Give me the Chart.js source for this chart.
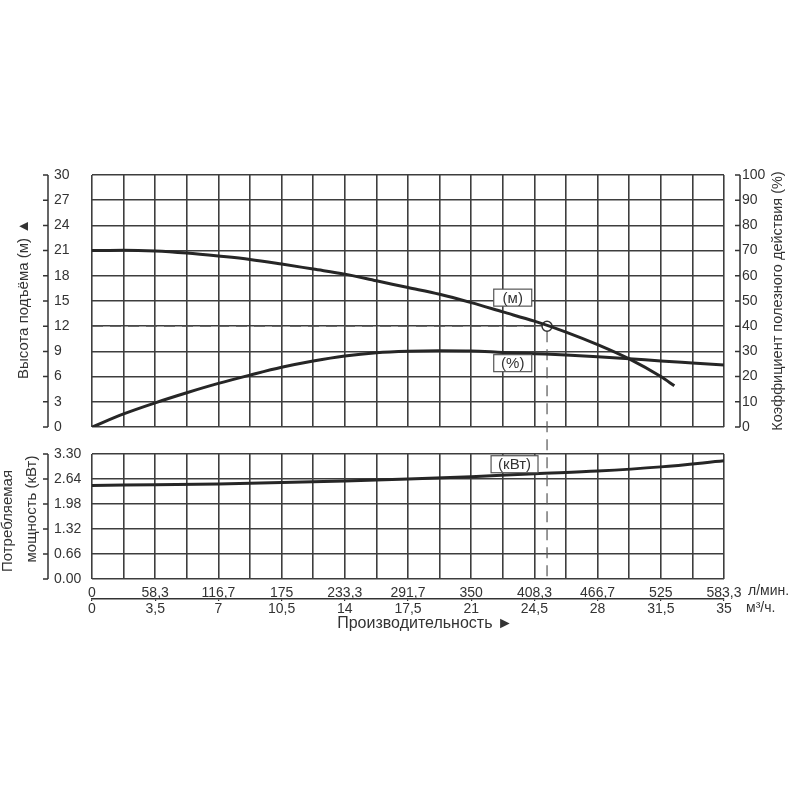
<!DOCTYPE html>
<html lang="ru">
<head>
<meta charset="utf-8">
<title>Рабочая характеристика насоса</title>
<script src="https://cdn.jsdelivr.net/npm/chart.js@4.4.1/dist/chart.umd.min.js"></script>
<style>
  html, body { margin: 0; padding: 0; background: #fff; }
  #wrap { position: relative; width: 800px; height: 800px; background: #fff; }
  #wrap canvas { position: absolute; left: 0; top: 0; }
</style>
</head>
<body>
<div id="wrap">
  <canvas id="powerChart" width="800" height="800"></canvas>
  <canvas id="headChart" width="800" height="800"></canvas>
</div>
<script>
// x axis runs in m3/h; the l/min row is the same axis relabelled
const headFlow   = [0, 1.75, 3.5, 5.25, 7, 8.75, 10.5, 12.25, 14, 15.75, 17.5, 19.25, 21, 22.75, 24.5, 26.25, 28, 29.75, 31.5, 32.25];
const headValues = [21.0, 21.05, 20.95, 20.7, 20.35, 19.95, 19.4, 18.8, 18.2, 17.4, 16.6, 15.8, 14.8, 13.7, 12.6, 11.3, 9.8, 8.1, 6.0, 4.9];

const effFlow   = [0, 1.75, 3.5, 5.25, 7, 8.75, 10.5, 12.25, 14, 15.75, 17.5, 19.25, 21, 22.75, 24.5, 26.25, 28, 29.75, 31.5, 33.25, 35];
const effValues = [0, 5.2, 9.6, 13.6, 17.3, 20.6, 23.7, 26.2, 28.2, 29.5, 30.1, 30.3, 30.2, 29.6, 29.1, 28.6, 27.9, 27.1, 26.2, 25.4, 24.6];

const powerFlow   = [0, 3.5, 7, 10.5, 14, 17.5, 21, 24.5, 28, 31.5, 35];
const powerValues = [2.47, 2.49, 2.51, 2.55, 2.59, 2.64, 2.70, 2.78, 2.85, 2.96, 3.12];

// duty point (marker + dashed guides)
const dutyFlow = 25.2;
const dutyHead = 12;

const flowLpmLabels = ['0', '58,3', '116,7', '175', '233,3', '291,7', '350', '408,3', '466,7', '525', '583,3'];
const flowM3hLabels = ['0', '3,5', '7', '10,5', '14', '17,5', '21', '24,5', '28', '31,5', '35'];
const powerTicks = [0, 0.66, 1.32, 1.98, 2.64, 3.30];

const INK = '#333';
const GRID = '#3e3e3e';
const CURVE = '#262626';
const FONT = '"Liberation Sans", Arial, sans-serif';

const toPoints = (xs, ys) => xs.map((x, i) => ({ x: x, y: ys[i] }));

// separate axis line with small ticks, placed away from the plot
const sideAxisPlugin = {
  id: 'sideAxis',
  afterDraw(chart, args, opts) {
    const ctx = chart.ctx;
    (opts.axes || []).forEach(a => {
      const s = chart.scales[a.id];
      ctx.save();
      ctx.strokeStyle = INK;
      ctx.lineWidth = 1.5;
      ctx.beginPath();
      ctx.moveTo(a.x, s.top);
      ctx.lineTo(a.x, s.bottom);
      s.ticks.forEach(t => {
        const y = s.getPixelForValue(t.value);
        ctx.moveTo(a.x - 5, y);
        ctx.lineTo(a.x, y);
      });
      ctx.stroke();
      ctx.restore();
    });
  }
};

// free text: axis titles, units
const textPlugin = {
  id: 'freeText',
  afterDraw(chart, args, opts) {
    const ctx = chart.ctx;
    (opts.items || []).forEach(t => {
      ctx.save();
      ctx.fillStyle = INK;
      ctx.font = t.size + 'px ' + FONT;
      ctx.textAlign = t.align || 'center';
      ctx.textBaseline = 'middle';
      ctx.translate(t.x, t.y);
      if (t.rotate) ctx.rotate(t.rotate);
      ctx.fillText(t.text, 0, 0);
      ctx.restore();
    });
  }
};

// boxed curve tags "(м)", "(%)", "(кВт)"
const tagPlugin = {
  id: 'curveTags',
  afterDatasetsDraw(chart, args, opts) {
    const ctx = chart.ctx;
    (opts.tags || []).forEach(t => {
      const x = chart.scales.x.getPixelForValue(t.flow);
      const y = chart.scales[t.axis].getPixelForValue(t.value);
      ctx.save();
      ctx.font = '15px ' + FONT;
      const w = Math.max(ctx.measureText(t.text).width + 14, 38);
      const h = 17;
      ctx.fillStyle = '#fff';
      ctx.fillRect(x - w / 2, y - h / 2, w, h);
      ctx.strokeStyle = '#555';
      ctx.lineWidth = 1.2;
      ctx.strokeRect(x - w / 2, y - h / 2, w, h);
      ctx.fillStyle = INK;
      ctx.textAlign = 'center';
      ctx.textBaseline = 'middle';
      ctx.fillText(t.text, x, y + 1);
      ctx.restore();
    });
  }
};

// dashed guides from the duty point: left to the axis, down through the power plot
const guidePlugin = {
  id: 'dutyGuide',
  beforeDatasetsDraw(chart) {
    const xs = chart.scales.x;
    const ys = chart.scales.yH;
    const px = xs.getPixelForValue(dutyFlow);
    const py = ys.getPixelForValue(dutyHead);
    const yEnd = powerChart ? powerChart.chartArea.bottom : chart.chartArea.bottom;
    const ctx = chart.ctx;
    ctx.save();
    ctx.strokeStyle = '#555';
    ctx.lineWidth = 1.2;
    ctx.setLineDash([11, 7]);
    ctx.beginPath();
    ctx.moveTo(xs.left, py);
    ctx.lineTo(px - 5, py);
    ctx.stroke();
    ctx.beginPath();
    ctx.moveTo(px, py + 5);
    ctx.lineTo(px, yEnd);
    ctx.stroke();
    ctx.restore();
  }
};

const gridStyle = { color: GRID, lineWidth: 1.6, drawTicks: false };
const tickFont = { family: FONT, size: 14 };

function xGridScale(showLabels) {
  return {
    type: 'linear',
    position: 'bottom',
    min: 0,
    max: 35,
    grid: gridStyle,
    border: { display: false },
    ticks: {
      display: showLabels,
      stepSize: 1.75,
      autoSkip: false,
      maxRotation: 0,
      padding: 6,
      color: INK,
      font: tickFont,
      callback: (v, i) => (i % 2 === 0 ? flowLpmLabels[i / 2] : '')
    },
    afterFit: s => { s.height = showLabels ? 20 : 0; }
  };
}

// ---- power chart (lower plot), created first so the head chart can reach it
const powerChart = new Chart(document.getElementById('powerChart'), {
  type: 'line',
  data: {
    datasets: [{
      data: toPoints(powerFlow, powerValues),
      borderColor: CURVE,
      borderWidth: 3,
      pointRadius: 0,
      tension: 0.4,
      cubicInterpolationMode: 'monotone',
      yAxisID: 'yP'
    }]
  },
  options: {
    responsive: false,
    animation: false,
    events: [],
    layout: { padding: { top: 454, left: 54, right: 76, bottom: 179 } },
    plugins: {
      legend: { display: false },
      tooltip: { enabled: false },
      sideAxis: { axes: [{ id: 'yP', x: 48 }] },
      curveTags: { tags: [{ text: '(кВт)', flow: 23.4, value: 3.03, axis: 'yP' }] },
      freeText: {
        items: [
          { text: 'Потребляемая', x: 8, y: 521, size: 15, rotate: -Math.PI / 2 },
          { text: 'мощность (кВт)', x: 32, y: 509, size: 15, rotate: -Math.PI / 2 },
          { text: 'л/мин.', x: 748, y: 591, size: 14, align: 'left' },
          { text: 'м³/ч.', x: 746, y: 608, size: 14, align: 'left' },
          { text: 'Производительность ►', x: 425, y: 624, size: 16 }
        ]
      }
    },
    scales: {
      x: xGridScale(true),
      x2: {
        type: 'linear',
        position: 'bottom',
        min: 0,
        max: 35,
        grid: { drawOnChartArea: false, drawTicks: true, tickLength: 2, color: INK, lineWidth: 1.2 },
        border: { display: true, color: INK, width: 1.5 },
        ticks: {
          stepSize: 3.5,
          autoSkip: false,
          maxRotation: 0,
          padding: 0,
          color: INK,
          font: tickFont,
          callback: (v, i) => flowM3hLabels[i]
        },
        afterFit: s => { s.height = 22; }
      },
      yP: {
        type: 'linear',
        position: 'left',
        min: 0,
        max: 3.3,
        grid: gridStyle,
        border: { display: false },
        afterBuildTicks: s => { s.ticks = powerTicks.map(v => ({ value: v })); },
        ticks: {
          crossAlign: 'far',
          color: INK,
          font: tickFont,
          callback: v => v.toFixed(2)
        },
        afterFit: s => { s.width = 38; }
      }
    }
  },
  plugins: [sideAxisPlugin, textPlugin, tagPlugin]
});

// ---- head / efficiency chart (upper plot)
const headChart = new Chart(document.getElementById('headChart'), {
  type: 'line',
  data: {
    datasets: [
      {
        data: toPoints(headFlow, headValues),
        borderColor: CURVE,
        borderWidth: 3,
        pointRadius: 0,
        tension: 0.4,
        cubicInterpolationMode: 'monotone',
        yAxisID: 'yH'
      },
      {
        data: toPoints(effFlow, effValues),
        borderColor: CURVE,
        borderWidth: 3,
        pointRadius: 0,
        tension: 0.4,
        cubicInterpolationMode: 'monotone',
        yAxisID: 'yE'
      },
      {
        data: [{ x: dutyFlow, y: dutyHead }],
        showLine: false,
        pointRadius: 5,
        pointBackgroundColor: '#fff',
        pointBorderColor: INK,
        pointBorderWidth: 1.5,
        yAxisID: 'yH'
      }
    ]
  },
  options: {
    responsive: false,
    animation: false,
    events: [],
    layout: { padding: { top: 175, left: 54, right: 20, bottom: 373 } },
    plugins: {
      legend: { display: false },
      tooltip: { enabled: false },
      sideAxis: { axes: [{ id: 'yH', x: 48 }, { id: 'yE', x: 740 }] },
      curveTags: {
        tags: [
          { text: '(м)', flow: 23.3, value: 15.4, axis: 'yH' },
          { text: '(%)', flow: 23.3, value: 7.6, axis: 'yH' }
        ]
      },
      freeText: {
        items: [
          { text: 'Высота подъёма (м) ▲', x: 24, y: 299, size: 15, rotate: -Math.PI / 2 },
          { text: 'Коэффициент полезного действия (%)', x: 778, y: 301, size: 14.5, rotate: -Math.PI / 2 }
        ]
      }
    },
    scales: {
      x: xGridScale(false),
      yH: {
        type: 'linear',
        position: 'left',
        min: 0,
        max: 30,
        grid: gridStyle,
        border: { display: false },
        ticks: { stepSize: 3, crossAlign: 'far', color: INK, font: tickFont },
        afterFit: s => { s.width = 38; }
      },
      yE: {
        type: 'linear',
        position: 'right',
        min: 0,
        max: 100,
        grid: { drawOnChartArea: false, drawTicks: false },
        border: { display: false },
        ticks: { stepSize: 10, padding: 18, color: INK, font: tickFont },
        afterFit: s => { s.width = 56; }
      }
    }
  },
  plugins: [guidePlugin, sideAxisPlugin, textPlugin, tagPlugin]
});
</script>
</body>
</html>
